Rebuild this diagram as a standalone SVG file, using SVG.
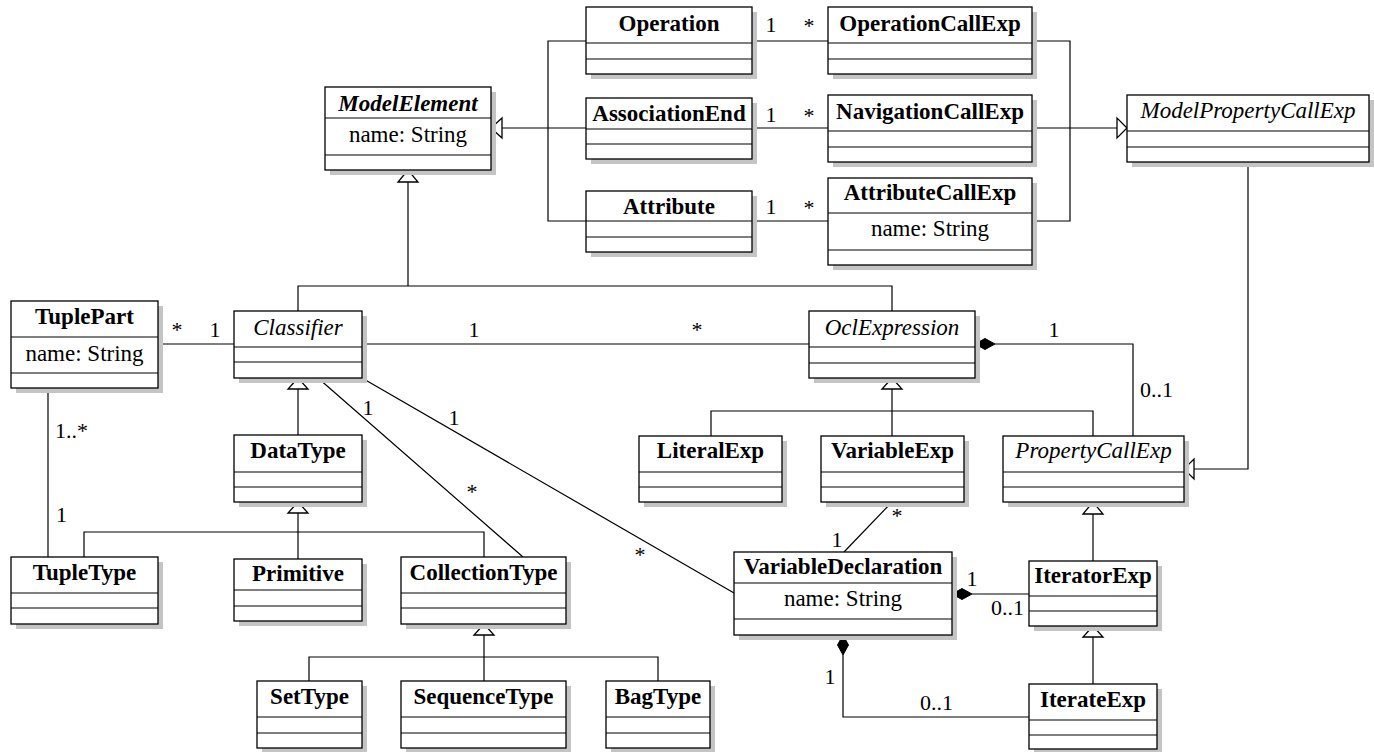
<svg xmlns="http://www.w3.org/2000/svg" width="1374" height="752" viewBox="0 0 1374 752">
<style>
.box{fill:#fff;stroke:#000;stroke-width:1.3}
.sh{fill:#c4c4c4}
.dv{stroke:#000;stroke-width:1.2}
.t{font-family:"Liberation Serif",serif;font-size:23px;text-anchor:middle;fill:#000}
.b{font-weight:bold}
.i{font-style:italic}
.lb{font-family:"Liberation Serif",serif;font-size:22px;fill:#000}
.m{text-anchor:middle}
.e{text-anchor:end}
.con{fill:none;stroke:#000;stroke-width:1.2}
.gen{fill:#fff;stroke:#000;stroke-width:1.3}
.dia{fill:#000;stroke:#000;stroke-width:1}
</style>
<rect width="1374" height="752" fill="#fff"/>

<g id="connectors">
<path class="con" d="M586,41 H548 V221 H586 M586,128 H502"/>
<polygon class="gen" points="491,128 502,118 502,138"/>
<path class="con" d="M752,41 H828 M752,128 H828 M752,221 H828"/>
<path class="con" d="M1032,41 H1070 V221 H1032 M1032,128 H1117"/>
<polygon class="gen" points="1127,128 1117,118 1117,138"/>
<path class="con" d="M408,182 V286 M298,311 V286 H892 V311"/>
<polygon class="gen" points="408,170 398,182 418,182"/>
<path class="con" d="M158,344 H234"/>
<path class="con" d="M362,344 H809"/>
<path class="con" d="M298,389 V435"/>
<polygon class="gen" points="298,378 288,389 308,389"/>
<path class="con" d="M318,378 L523,557 M362,378 L734,593"/>
<path class="con" d="M298,513 V559 M84,557 V532 H484 V557"/>
<polygon class="gen" points="298,502 288,513 308,513"/>
<path class="con" d="M48,388 V557"/>
<path class="con" d="M484,635 V681 M309,681 V657 H658 V681"/>
<polygon class="gen" points="484,624 474,635 494,635"/>
<path class="con" d="M892,389 V436 M711,436 V411 H1093 V436"/>
<polygon class="gen" points="892,378 882,389 902,389"/>
<path class="con" d="M995,344 H1133 V436"/>
<polygon class="dia" points="975,344 985,338.5 995,344 985,349.5"/>
<path class="con" d="M1248,162 V469 H1194"/>
<polygon class="gen" points="1184,469 1194,459 1194,479"/>
<path class="con" d="M892,502 L844,552"/>
<path class="con" d="M972,594 H1029"/>
<polygon class="dia" points="952,594 962,588.5 972,594 962,599.5"/>
<path class="con" d="M1093,514 V561"/>
<polygon class="gen" points="1093,502 1083,514 1103,514"/>
<path class="con" d="M1093,637 V684"/>
<polygon class="gen" points="1093,626 1083,637 1103,637"/>
<path class="con" d="M843,655 V717 H1029"/>
<polygon class="dia" points="843,635 848.5,645 843,655 837.5,645"/>

<text class="lb m" x="771" y="32">1</text>
<text class="lb m" x="809" y="33">*</text>
<text class="lb m" x="771" y="122">1</text>
<text class="lb m" x="809" y="123">*</text>
<text class="lb m" x="771" y="214">1</text>
<text class="lb m" x="809" y="215">*</text>
<text class="lb m" x="177" y="337">*</text>
<text class="lb m" x="215" y="337">1</text>
<text class="lb m" x="474" y="337">1</text>
<text class="lb m" x="697" y="337">*</text>
<text class="lb m" x="1054" y="337">1</text>
<text class="lb" x="1140" y="397">0..1</text>
<text class="lb m" x="368" y="415">1</text>
<text class="lb m" x="472" y="499">*</text>
<text class="lb m" x="454" y="425">1</text>
<text class="lb m" x="640" y="562">*</text>
<text class="lb" x="55" y="438">1..*</text>
<text class="lb" x="56" y="522">1</text>
<text class="lb m" x="897" y="523">*</text>
<text class="lb m" x="837" y="547">1</text>
<text class="lb m" x="972" y="586">1</text>
<text class="lb e" x="1024" y="615">0..1</text>
<text class="lb m" x="830" y="684">1</text>
<text class="lb" x="920" y="710">0..1</text>
</g>

<g id="ModelElement">
<rect class="sh" x="330" y="92" width="166" height="83"/>
<rect class="box" x="325" y="87" width="166" height="83"/>
<line class="dv" x1="325" y1="118" x2="491" y2="118"/>
<line class="dv" x1="325" y1="155" x2="491" y2="155"/>
<text class="t b i" x="408" y="111">ModelElement</text>
<text class="t" x="408" y="142">name: String</text>
</g>

<g id="Operation">
<rect class="sh" x="591" y="12" width="166" height="67"/>
<rect class="box" x="586" y="7" width="166" height="67"/>
<line class="dv" x1="586" y1="43" x2="752" y2="43"/>
<line class="dv" x1="586" y1="59" x2="752" y2="59"/>
<text class="t b" x="669" y="31">Operation</text>
</g>

<g id="OperationCallExp">
<rect class="sh" x="833" y="12" width="204" height="67"/>
<rect class="box" x="828" y="7" width="204" height="67"/>
<line class="dv" x1="828" y1="43" x2="1032" y2="43"/>
<line class="dv" x1="828" y1="59" x2="1032" y2="59"/>
<text class="t b" x="930" y="31">OperationCallExp</text>
</g>

<g id="AssociationEnd">
<rect class="sh" x="591" y="103" width="166" height="61"/>
<rect class="box" x="586" y="98" width="166" height="61"/>
<line class="dv" x1="586" y1="129" x2="752" y2="129"/>
<line class="dv" x1="586" y1="144" x2="752" y2="144"/>
<text class="t b" x="669" y="121">AssociationEnd</text>
</g>

<g id="NavigationCallExp">
<rect class="sh" x="833" y="100" width="204" height="67"/>
<rect class="box" x="828" y="95" width="204" height="67"/>
<line class="dv" x1="828" y1="131" x2="1032" y2="131"/>
<line class="dv" x1="828" y1="147" x2="1032" y2="147"/>
<text class="t b" x="930" y="119">NavigationCallExp</text>
</g>

<g id="Attribute">
<rect class="sh" x="591" y="196" width="166" height="61"/>
<rect class="box" x="586" y="191" width="166" height="61"/>
<line class="dv" x1="586" y1="221" x2="752" y2="221"/>
<line class="dv" x1="586" y1="237" x2="752" y2="237"/>
<text class="t b" x="669" y="214">Attribute</text>
</g>

<g id="AttributeCallExp">
<rect class="sh" x="833" y="183" width="204" height="87"/>
<rect class="box" x="828" y="178" width="204" height="87"/>
<line class="dv" x1="828" y1="213" x2="1032" y2="213"/>
<line class="dv" x1="828" y1="250" x2="1032" y2="250"/>
<text class="t b" x="930" y="200">AttributeCallExp</text>
<text class="t" x="930" y="236">name: String</text>
</g>

<g id="ModelPropertyCallExp">
<rect class="sh" x="1132" y="100" width="242" height="67"/>
<rect class="box" x="1127" y="95" width="242" height="67"/>
<line class="dv" x1="1127" y1="131" x2="1369" y2="131"/>
<line class="dv" x1="1127" y1="147" x2="1369" y2="147"/>
<text class="t i" x="1248" y="118">ModelPropertyCallExp</text>
</g>

<g id="TuplePart">
<rect class="sh" x="16" y="306" width="147" height="87"/>
<rect class="box" x="11" y="301" width="147" height="87"/>
<line class="dv" x1="11" y1="337" x2="158" y2="337"/>
<line class="dv" x1="11" y1="373" x2="158" y2="373"/>
<text class="t b" x="84.5" y="324">TuplePart</text>
<text class="t" x="84.5" y="361">name: String</text>
</g>

<g id="Classifier">
<rect class="sh" x="239" y="316" width="128" height="67"/>
<rect class="box" x="234" y="311" width="128" height="67"/>
<line class="dv" x1="234" y1="347" x2="362" y2="347"/>
<line class="dv" x1="234" y1="362" x2="362" y2="362"/>
<text class="t i" x="298" y="335">Classifier</text>
</g>

<g id="OclExpression">
<rect class="sh" x="814" y="316" width="166" height="67"/>
<rect class="box" x="809" y="311" width="166" height="67"/>
<line class="dv" x1="809" y1="347" x2="975" y2="347"/>
<line class="dv" x1="809" y1="363" x2="975" y2="363"/>
<text class="t i" x="892" y="335">OclExpression</text>
</g>

<g id="DataType">
<rect class="sh" x="239" y="440" width="128" height="67"/>
<rect class="box" x="234" y="435" width="128" height="67"/>
<line class="dv" x1="234" y1="472" x2="362" y2="472"/>
<line class="dv" x1="234" y1="487" x2="362" y2="487"/>
<text class="t b" x="298" y="458">DataType</text>
</g>

<g id="LiteralExp">
<rect class="sh" x="644" y="441" width="143" height="66"/>
<rect class="box" x="639" y="436" width="143" height="66"/>
<line class="dv" x1="639" y1="472" x2="782" y2="472"/>
<line class="dv" x1="639" y1="487" x2="782" y2="487"/>
<text class="t b" x="710.5" y="458">LiteralExp</text>
</g>

<g id="VariableExp">
<rect class="sh" x="826" y="441" width="143" height="66"/>
<rect class="box" x="821" y="436" width="143" height="66"/>
<line class="dv" x1="821" y1="472" x2="964" y2="472"/>
<line class="dv" x1="821" y1="487" x2="964" y2="487"/>
<text class="t b" x="892.5" y="458">VariableExp</text>
</g>

<g id="PropertyCallExp">
<rect class="sh" x="1008" y="441" width="181" height="66"/>
<rect class="box" x="1003" y="436" width="181" height="66"/>
<line class="dv" x1="1003" y1="472" x2="1184" y2="472"/>
<line class="dv" x1="1003" y1="487" x2="1184" y2="487"/>
<text class="t i" x="1093.5" y="458">PropertyCallExp</text>
</g>

<g id="TupleType">
<rect class="sh" x="16" y="562" width="147" height="67"/>
<rect class="box" x="11" y="557" width="147" height="67"/>
<line class="dv" x1="11" y1="593" x2="158" y2="593"/>
<line class="dv" x1="11" y1="608" x2="158" y2="608"/>
<text class="t b" x="84.5" y="580">TupleType</text>
</g>

<g id="Primitive">
<rect class="sh" x="239" y="564" width="128" height="62"/>
<rect class="box" x="234" y="559" width="128" height="62"/>
<line class="dv" x1="234" y1="590" x2="362" y2="590"/>
<line class="dv" x1="234" y1="606" x2="362" y2="606"/>
<text class="t b" x="298" y="581">Primitive</text>
</g>

<g id="CollectionType">
<rect class="sh" x="406" y="562" width="165" height="67"/>
<rect class="box" x="401" y="557" width="165" height="67"/>
<line class="dv" x1="401" y1="593" x2="566" y2="593"/>
<line class="dv" x1="401" y1="608" x2="566" y2="608"/>
<text class="t b" x="483.5" y="580">CollectionType</text>
</g>

<g id="VariableDeclaration">
<rect class="sh" x="739" y="557" width="218" height="83"/>
<rect class="box" x="734" y="552" width="218" height="83"/>
<line class="dv" x1="734" y1="583" x2="952" y2="583"/>
<line class="dv" x1="734" y1="619" x2="952" y2="619"/>
<text class="t b" x="843" y="574">VariableDeclaration</text>
<text class="t" x="843" y="606">name: String</text>
</g>

<g id="IteratorExp">
<rect class="sh" x="1034" y="566" width="128" height="65"/>
<rect class="box" x="1029" y="561" width="128" height="65"/>
<line class="dv" x1="1029" y1="596" x2="1157" y2="596"/>
<line class="dv" x1="1029" y1="611" x2="1157" y2="611"/>
<text class="t b" x="1093" y="583">IteratorExp</text>
</g>

<g id="SetType">
<rect class="sh" x="262" y="686" width="105" height="67"/>
<rect class="box" x="257" y="681" width="105" height="67"/>
<line class="dv" x1="257" y1="717" x2="362" y2="717"/>
<line class="dv" x1="257" y1="733" x2="362" y2="733"/>
<text class="t b" x="309.5" y="704">SetType</text>
</g>

<g id="SequenceType">
<rect class="sh" x="406" y="686" width="165" height="67"/>
<rect class="box" x="401" y="681" width="165" height="67"/>
<line class="dv" x1="401" y1="717" x2="566" y2="717"/>
<line class="dv" x1="401" y1="733" x2="566" y2="733"/>
<text class="t b" x="483.5" y="704">SequenceType</text>
</g>

<g id="BagType">
<rect class="sh" x="611" y="686" width="104" height="67"/>
<rect class="box" x="606" y="681" width="104" height="67"/>
<line class="dv" x1="606" y1="717" x2="710" y2="717"/>
<line class="dv" x1="606" y1="733" x2="710" y2="733"/>
<text class="t b" x="658" y="704">BagType</text>
</g>

<g id="IterateExp">
<rect class="sh" x="1034" y="689" width="128" height="65"/>
<rect class="box" x="1029" y="684" width="128" height="65"/>
<line class="dv" x1="1029" y1="720" x2="1157" y2="720"/>
<line class="dv" x1="1029" y1="735" x2="1157" y2="735"/>
<text class="t b" x="1093" y="707">IterateExp</text>
</g>
</svg>
